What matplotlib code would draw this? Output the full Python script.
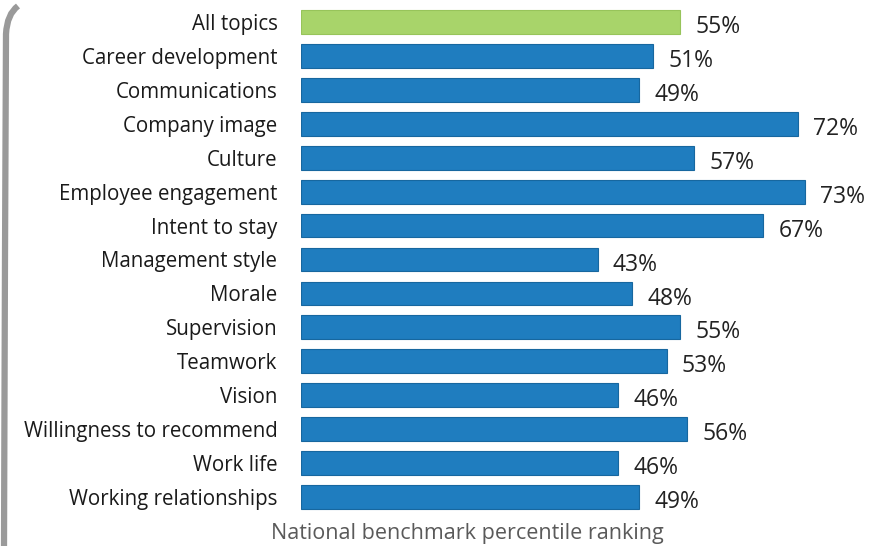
import matplotlib.pyplot as plt
from matplotlib.path import Path
from matplotlib.patches import PathPatch

topics = ["All topics", "Career development", "Communications", "Company image",
          "Culture", "Employee engagement", "Intent to stay", "Management style",
          "Morale", "Supervision", "Teamwork", "Vision",
          "Willingness to recommend", "Work life", "Working relationships"]
percentiles = [55, 51, 49, 72, 57, 73, 67, 43, 48, 55, 53, 46, 56, 46, 49]

green = "#a8d46a"
blue = "#1f7dbf"
colors = [green] + [blue] * (len(topics) - 1)
edges = ["#97c45a"] + ["#17679f"] * (len(topics) - 1)

plt.rcParams["font.family"] = ["Open Sans", "DejaVu Sans"]

fig = plt.figure(figsize=(8.86, 5.46), dpi=100)
ax = fig.add_axes([301 / 886, 32 / 546, 585 / 886, 509 / 546])

ypos = list(range(len(topics)))
ax.barh(ypos, percentiles, height=0.7, color=colors, edgecolor=edges, linewidth=0.8)

for y, v in zip(ypos, percentiles):
    ax.text(v + 2.2, y + 0.15, f"{v}%", va="center", ha="left", fontsize=16.5, color="#222222")

ax.set_yticks(ypos)
ax.set_yticklabels(topics, fontsize=14.8, color="#1a1a1a")
ax.tick_params(axis="y", length=0, pad=17)
ax.set_xticks([])
ax.set_xlim(0, 84.8)
ax.set_ylim(len(topics) - 0.5, -0.5)
for s in ax.spines.values():
    s.set_visible(False)

fig.text(467 / 886, 12 / 546, "National benchmark percentile ranking",
         ha="center", va="center", fontsize=15.5, color="#5a5a5a")

# grey brace on the left edge of the scanned page
verts = [(18 / 886, 540 / 546), (7 / 886, 532 / 546), (6 / 886, 512 / 546),
         (5 / 886, 290 / 546), (4 / 886, 0)]
codes = [Path.MOVETO, Path.CURVE3, Path.CURVE3, Path.LINETO, Path.LINETO]
fig.patches.append(PathPatch(Path(verts, codes), transform=fig.transFigure,
                             fill=False, edgecolor="#9a9a9a", linewidth=4.5))

fig.savefig("out.png", dpi=100)
